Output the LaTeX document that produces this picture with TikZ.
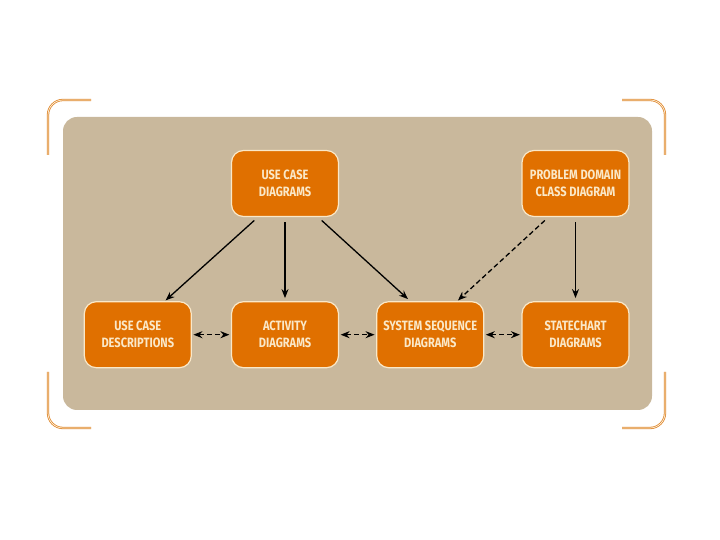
\documentclass[tikz,border=0pt]{standalone}
\usepackage{fontspec}
\newfontfamily\boxfont[FakeStretch=0.82]{Fira Sans}
\usepackage{xcolor}
\definecolor{ucorange}{HTML}{E07000}
\definecolor{uctan}{HTML}{C9B89C}
\definecolor{uccream}{HTML}{FAE8C8}
\definecolor{ucbracket}{HTML}{E08A30}
\usepackage{tikz}
\usetikzlibrary{arrows.meta, positioning}

\begin{document}
\begin{tikzpicture}[
  x=1pt, y=1pt,
  node distance=84pt and 39pt,
  box/.style={
    draw=uccream, rounded corners=12pt, line width=1.2pt,
    minimum width=107pt, minimum height=66pt, inner sep=0pt,
    fill=ucorange, text=uccream, align=center,
    font=\boxfont\bfseries\fontsize{13.5}{17}\selectfont
  },
  arrow/.style={-{Stealth[length=9pt, width=7pt]}, line width=1.3pt, black},
  darrow/.style={arrow, dash pattern=on 5pt off 3pt},
  twoway/.style={{Stealth[length=9pt, width=7pt]}-{Stealth[length=9pt, width=7pt]},
    line width=1.3pt, black, dash pattern=on 5pt off 3pt},
  bracket/.style={draw=ucbracket, line width=0.8pt, double=uccream!60,
    double distance=0.7pt, rounded corners=15pt}
]
\useasboundingbox (0,0) rectangle (720,540);

% Panel
\fill[uctan, rounded corners=14pt] (63,130) rectangle (652,423);

% Corner brackets
\draw[bracket] (48,385) -- (48,440) -- (91,440);
\draw[bracket] (622,440) -- (665,440) -- (665,385);
\draw[bracket] (48,168) -- (48,112) -- (91,112);
\draw[bracket] (622,112) -- (665,112) -- (665,168);

% Top row
\node[box] (ucd) at (285,356.5) {USE CASE\\DIAGRAMS};
\node[box] (pdcd) at (575.5,356.5) {PROBLEM DOMAIN\\CLASS DIAGRAM};

% Bottom row
\node[box, below=of ucd] (act) {ACTIVITY\\DIAGRAMS};
\node[box, left=of act] (ucdesc) {USE CASE\\DESCRIPTIONS};
\node[box, right=37pt of act] (ssd) {SYSTEM SEQUENCE\\DIAGRAMS};
\node[box, below=of pdcd] (sc) {STATECHART\\DIAGRAMS};

% Use case diagrams feed the others
\draw[arrow, shorten <=5pt, shorten >=1pt] ([xshift=-27pt]ucd.south) -- ([xshift=27pt]ucdesc.north);
\draw[arrow, shorten <=5pt, shorten >=3pt] (ucd.south) -- (act.north);
\draw[arrow, shorten <=5pt, shorten >=3pt] ([xshift=33pt]ucd.south) -- ([xshift=-20pt]ssd.north);

% Domain model
\draw[darrow, shorten <=5pt, shorten >=1pt] ([xshift=-27pt]pdcd.south) -- ([xshift=27pt]ssd.north);
\draw[arrow, shorten <=5pt, shorten >=3pt] (pdcd.south) -- (sc.north);

% Two way links
\draw[twoway, shorten <=1.5pt, shorten >=1.5pt] (ucdesc.east) -- (act.west);
\draw[twoway, shorten <=1.5pt, shorten >=1.5pt] (act.east) -- (ssd.west);
\draw[twoway, shorten <=1.5pt, shorten >=1.5pt] (ssd.east) -- (sc.west);

\end{tikzpicture}
\end{document}
